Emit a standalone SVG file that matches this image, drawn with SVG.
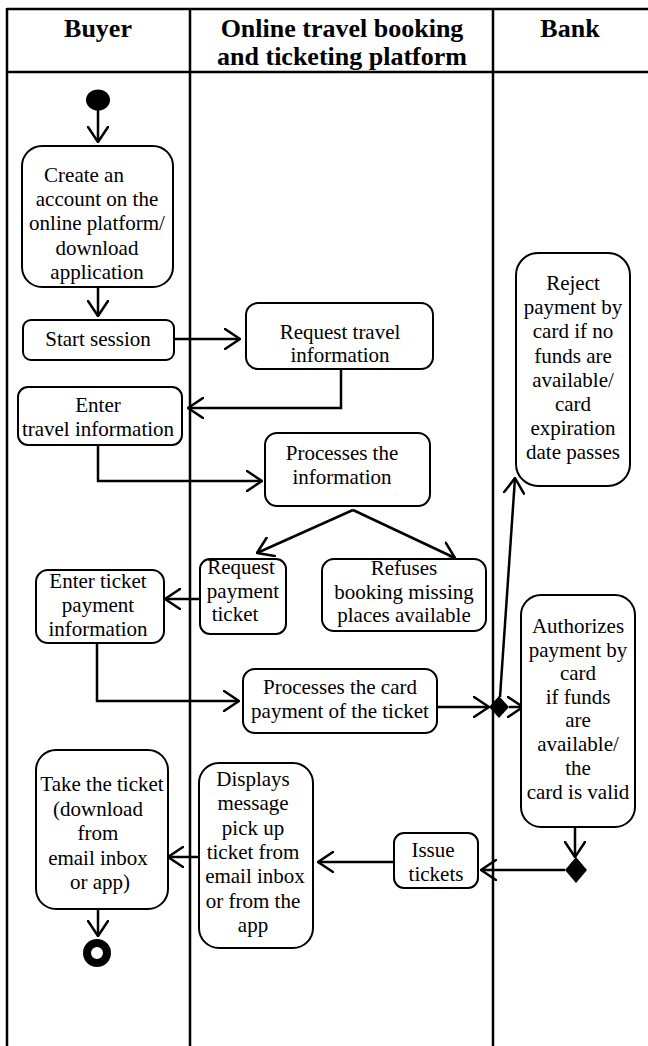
<svg xmlns="http://www.w3.org/2000/svg" width="648" height="1046" viewBox="0 0 648 1046">
<style>
.lane{stroke:#000;stroke-width:2.5;fill:none}
.box{fill:#fff;stroke:#000;stroke-width:2}
.t{font-family:'Liberation Serif','DejaVu Serif',serif;font-size:21px;fill:#000;text-anchor:middle}
.h{font-family:'Liberation Serif','DejaVu Serif',serif;font-size:26px;font-weight:bold;fill:#000;text-anchor:middle}
.c{stroke:#000;stroke-width:2.5;fill:none;marker-end:url(#arr)}
</style>
<defs>
<marker id="arr" viewBox="0 0 17 22" refX="16" refY="11" markerWidth="17" markerHeight="22" markerUnits="userSpaceOnUse" orient="auto">
<path d="M1,1 L16,11 L1,21" fill="none" stroke="#000" stroke-width="2.5" stroke-linejoin="round" stroke-linecap="round"/>
</marker>
</defs>
<rect width="648" height="1046" fill="#fff"/>
<g id="lanes">
<line class="lane" x1="7" y1="9" x2="648" y2="9"/>
<line class="lane" x1="7" y1="72" x2="648" y2="72"/>
<line class="lane" x1="7" y1="8" x2="7" y2="1046"/>
<line class="lane" x1="190" y1="8" x2="190" y2="1046"/>
<line class="lane" x1="493" y1="8" x2="493" y2="1046"/>
<text class="h" x="98" y="37">Buyer</text>
<text class="h" x="342" y="37">Online travel booking</text>
<text class="h" x="342" y="65">and ticketing platform</text>
<text class="h" x="570" y="37">Bank</text>
</g>
<g id="connectors">
<line class="c" x1="98" y1="110" x2="98" y2="142"/>
<line class="c" x1="98" y1="287" x2="98" y2="316"/>
<line class="c" x1="174" y1="339" x2="240" y2="339"/>
<polyline class="c" points="341,369 341,408 188,408"/>
<polyline class="c" points="98,445 98,481 262,481"/>
<line class="c" x1="353" y1="510" x2="257" y2="553"/>
<line class="c" x1="353" y1="510" x2="455" y2="558"/>
<line class="c" x1="200" y1="599" x2="165" y2="599"/>
<polyline class="c" points="97,643 97,701 239,701"/>
<line class="c" x1="437" y1="707" x2="489" y2="707"/>
<line class="c" x1="509" y1="707" x2="523" y2="707"/>
<line class="c" x1="500" y1="697" x2="515" y2="478"/>
<line class="c" x1="575" y1="827" x2="575" y2="857"/>
<line class="c" x1="565" y1="870" x2="481" y2="870"/>
<line class="c" x1="394" y1="862" x2="318" y2="862"/>
<line class="c" x1="199" y1="857" x2="168" y2="857"/>
<line class="c" x1="98" y1="909" x2="98" y2="936"/>
</g>
<g id="start"><ellipse cx="98" cy="100" rx="12" ry="10.5" fill="#000"/></g>
<g id="create">
<rect class="box" x="22" y="146" width="151" height="141" rx="20"/>
<text class="t" x="84" y="182">Create an</text>
<text class="t" x="97" y="206">account on the</text>
<text class="t" x="97" y="230">online platform/</text>
<text class="t" x="97" y="255">download</text>
<text class="t" x="97" y="279">application</text>
</g>
<g id="startSession">
<rect class="box" x="23" y="320" width="151" height="40" rx="8"/>
<text class="t" x="98" y="346">Start session</text>
</g>
<g id="requestTravel">
<rect class="box" x="246" y="303" width="187" height="66" rx="12"/>
<text class="t" x="340" y="339">Request travel</text>
<text class="t" x="340" y="362">information</text>
</g>
<g id="enterTravel">
<rect class="box" x="18" y="387" width="164" height="58" rx="10"/>
<text class="t" x="98" y="412">Enter</text>
<text class="t" x="98" y="436">travel information</text>
</g>
<g id="processInfo">
<rect class="box" x="265" y="433" width="165" height="73" rx="12"/>
<text class="t" x="342" y="460">Processes the</text>
<text class="t" x="342" y="484">information</text>
</g>
<g id="requestPayment">
<rect class="box" x="200" y="559" width="86" height="75" rx="10"/>
<text class="t" x="241" y="574">Request</text>
<text class="t" x="243" y="598">payment</text>
<text class="t" x="235" y="621">ticket</text>
</g>
<g id="refuses">
<rect class="box" x="322" y="559" width="164" height="72" rx="12"/>
<text class="t" x="404" y="575">Refuses</text>
<text class="t" x="404" y="599">booking missing</text>
<text class="t" x="404" y="622">places available</text>
</g>
<g id="enterPayment">
<rect class="box" x="36" y="570" width="128" height="73" rx="12"/>
<text class="t" x="98" y="588">Enter ticket</text>
<text class="t" x="98" y="612">payment</text>
<text class="t" x="98" y="636">information</text>
</g>
<g id="processCard">
<rect class="box" x="243" y="669" width="194" height="64" rx="12"/>
<text class="t" x="340" y="694">Processes the card</text>
<text class="t" x="340" y="718">payment of the ticket</text>
</g>
<g id="decision1"><polygon points="489,707 499,696 509,707 499,718" fill="#000"/></g>
<g id="reject">
<rect class="box" x="516" y="253" width="114" height="233" rx="22"/>
<text class="t" x="573" y="290">Reject</text>
<text class="t" x="573" y="314">payment by</text>
<text class="t" x="573" y="338">card if no</text>
<text class="t" x="573" y="363">funds are</text>
<text class="t" x="573" y="387">available/</text>
<text class="t" x="573" y="411">card</text>
<text class="t" x="573" y="435">expiration</text>
<text class="t" x="573" y="459">date passes</text>
</g>
<g id="authorize">
<rect class="box" x="521" y="595" width="114" height="232" rx="20"/>
<text class="t" x="578" y="633">Authorizes</text>
<text class="t" x="578" y="657">payment by</text>
<text class="t" x="578" y="680">card</text>
<text class="t" x="578" y="704">if funds</text>
<text class="t" x="578" y="727">are</text>
<text class="t" x="578" y="751">available/</text>
<text class="t" x="578" y="775">the</text>
<text class="t" x="578" y="799">card is valid</text>
</g>
<g id="decision2"><polygon points="565,870 576,857 587,870 576,883" fill="#000"/></g>
<g id="issue">
<rect class="box" x="394" y="833" width="84" height="55" rx="10"/>
<text class="t" x="433" y="857">Issue</text>
<text class="t" x="436" y="881">tickets</text>
</g>
<g id="displays">
<rect class="box" x="199" y="763" width="114" height="185" rx="20"/>
<text class="t" x="253" y="786">Displays</text>
<text class="t" x="253" y="810">message</text>
<text class="t" x="253" y="835">pick up</text>
<text class="t" x="253" y="859">ticket from</text>
<text class="t" x="255" y="883">email inbox</text>
<text class="t" x="253" y="908">or from the</text>
<text class="t" x="253" y="932">app</text>
</g>
<g id="take">
<rect class="box" x="36" y="750" width="132" height="159" rx="20"/>
<text class="t" x="102" y="791">Take the ticket</text>
<text class="t" x="98" y="816">(download</text>
<text class="t" x="98" y="840">from</text>
<text class="t" x="98" y="865">email inbox</text>
<text class="t" x="100" y="889">or app)</text>
</g>
<g id="end">
<circle cx="97" cy="953" r="10" fill="none" stroke="#000" stroke-width="8"/>
</g>
</svg>
